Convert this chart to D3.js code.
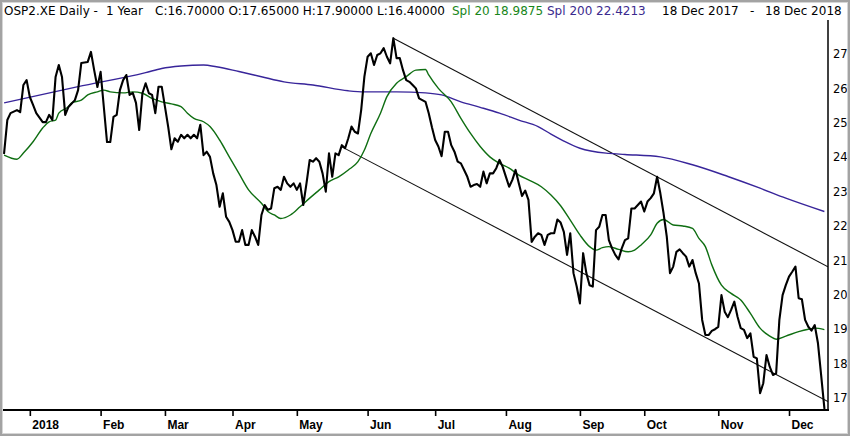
<!DOCTYPE html>
<html>
<head>
<meta charset="utf-8">
<script src="https://cdn.jsdelivr.net/npm/d3@7"></script>
<style>
  html, body { margin: 0; padding: 0; background: #fff; }
  svg { display: block; }
</style>
</head>
<body>
<svg id="chart" width="850" height="436"></svg>
<script>
// ---------------- DATA ----------------
const seriesStart = "2017-12-18";
const seriesEnd = "2018-12-18";
const exchangeHolidays = ["2017-12-25", "2017-12-26", "2018-01-01", "2018-03-30", "2018-04-02", "2018-05-01"];

const monthLabels = ["2018", "Feb", "Mar", "Apr", "May", "Jun", "Jul", "Aug", "Sep", "Oct", "Nov", "Dec"];
const priceTicks = [17, 18, 19, 20, 21, 22, 23, 24, 25, 26, 27];

// daily close
const closes = [
  ["2017-12-18",24.12],["2017-12-19",25.08],["2017-12-20",25.28],["2017-12-22",25.37],["2017-12-27",25.31],
  ["2017-12-28",26.10],["2017-12-29",26.24],["2018-01-02",25.75],["2018-01-03",25.52],["2018-01-04",25.28],
  ["2018-01-08",25.02],["2018-01-09",25.02],["2018-01-10",25.23],["2018-01-11",25.08],["2018-01-12",26.33],
  ["2018-01-15",26.68],["2018-01-16",26.33],["2018-01-17",25.23],["2018-01-18",25.46],["2018-01-22",25.66],
  ["2018-01-23",25.95],["2018-01-24",26.74],["2018-01-26",26.77],["2018-01-29",27.06],["2018-01-30",26.53],
  ["2018-01-31",26.04],["2018-02-01",26.48],["2018-02-02",25.46],["2018-02-05",24.44],["2018-02-06",24.44],
  ["2018-02-07",25.17],["2018-02-08",25.23],["2018-02-09",25.95],["2018-02-12",26.24],["2018-02-13",26.39],
  ["2018-02-14",25.81],["2018-02-15",25.87],["2018-02-16",25.58],["2018-02-19",24.79],["2018-02-20",25.86],
  ["2018-02-21",26.15],["2018-02-22",25.86],["2018-02-23",25.81],["2018-02-26",25.28],["2018-02-27",26.05],
  ["2018-02-28",26.05],["2018-03-01",25.47],["2018-03-02",24.89],["2018-03-05",24.23],["2018-03-06",24.55],
  ["2018-03-07",24.45],["2018-03-08",24.65],["2018-03-09",24.55],["2018-03-12",24.65],["2018-03-13",24.55],
  ["2018-03-14",24.65],["2018-03-15",24.55],["2018-03-16",24.94],["2018-03-19",24.06],["2018-03-20",24.16],
  ["2018-03-21",24.01],["2018-03-22",23.53],["2018-03-23",23.19],["2018-03-26",22.56],["2018-03-27",22.95],
  ["2018-03-28",22.27],["2018-03-29",22.12],["2018-04-03",21.88],["2018-04-04",21.54],["2018-04-05",21.54],
  ["2018-04-06",21.88],["2018-04-09",21.45],["2018-04-10",21.45],["2018-04-11",21.88],["2018-04-12",21.69],
  ["2018-04-13",21.45],["2018-04-16",22.32],["2018-04-17",22.61],["2018-04-18",22.47],["2018-04-19",22.51],
  ["2018-04-20",23.10],["2018-04-23",23.14],["2018-04-24",23.05],["2018-04-25",23.43],["2018-04-26",23.24],
  ["2018-04-27",23.14],["2018-04-30",23.24],["2018-05-02",23.05],["2018-05-03",23.24],["2018-05-04",22.61],
  ["2018-05-07",23.24],["2018-05-08",23.92],["2018-05-09",23.87],["2018-05-10",23.97],["2018-05-11",23.87],
  ["2018-05-14",23.53],["2018-05-15",23.00],["2018-05-16",24.11],["2018-05-17",23.43],["2018-05-18",24.11],
  ["2018-05-21",24.06],["2018-05-22",24.35],["2018-05-23",24.26],["2018-05-24",24.55],["2018-05-25",24.89],
  ["2018-05-28",24.74],["2018-05-29",24.69],["2018-05-30",25.37],["2018-05-31",26.34],["2018-06-01",26.92],
  ["2018-06-04",27.02],["2018-06-05",26.68],["2018-06-06",26.97],["2018-06-07",27.02],["2018-06-08",27.17],
  ["2018-06-11",26.92],["2018-06-12",26.73],["2018-06-13",27.46],["2018-06-14",26.88],["2018-06-15",26.88],
  ["2018-06-18",26.53],["2018-06-19",26.24],["2018-06-20",26.19],["2018-06-21",26.10],["2018-06-22",26.00],
  ["2018-06-25",25.71],["2018-06-26",25.66],["2018-06-27",25.61],["2018-06-28",25.28],["2018-06-29",24.87],
  ["2018-07-02",24.50],["2018-07-03",24.31],["2018-07-04",24.03],["2018-07-05",24.74],["2018-07-06",24.74],
  ["2018-07-09",24.35],["2018-07-10",24.16],["2018-07-11",23.87],["2018-07-12",23.82],["2018-07-13",23.63],
  ["2018-07-16",23.43],["2018-07-17",23.14],["2018-07-18",23.19],["2018-07-19",23.22],["2018-07-20",23.14],
  ["2018-07-23",23.58],["2018-07-24",23.24],["2018-07-25",23.53],["2018-07-26",23.53],["2018-07-27",23.68],
  ["2018-07-30",23.92],["2018-07-31",23.72],["2018-08-01",23.43],["2018-08-02",23.14],["2018-08-03",23.34],
  ["2018-08-06",23.63],["2018-08-07",23.24],["2018-08-08",22.87],["2018-08-09",23.03],["2018-08-10",22.76],
  ["2018-08-13",21.54],["2018-08-14",21.69],["2018-08-15",21.79],["2018-08-16",21.74],["2018-08-17",21.45],
  ["2018-08-20",21.74],["2018-08-21",21.79],["2018-08-22",21.79],["2018-08-23",22.19],["2018-08-24",22.10],
  ["2018-08-27",21.83],["2018-08-28",21.16],["2018-08-29",21.79],["2018-08-30",20.63],["2018-08-31",20.24],
  ["2018-09-03",19.75],["2018-09-04",21.21],["2018-09-05",20.63],["2018-09-06",20.28],["2018-09-07",20.24],
  ["2018-09-10",21.88],["2018-09-11",21.98],["2018-09-12",22.32],["2018-09-13",22.32],["2018-09-14",21.59],
  ["2018-09-17",21.35],["2018-09-18",21.16],["2018-09-19",21.03],["2018-09-20",21.35],["2018-09-21",21.59],
  ["2018-09-24",21.64],["2018-09-25",22.51],["2018-09-26",22.51],["2018-09-27",22.61],["2018-09-28",22.71],
  ["2018-10-01",22.42],["2018-10-02",22.71],["2018-10-03",22.81],["2018-10-04",22.95],["2018-10-05",23.43],
  ["2018-10-08",22.95],["2018-10-09",22.37],["2018-10-10",21.69],["2018-10-11",20.63],["2018-10-12",20.82],
  ["2018-10-15",21.25],["2018-10-16",21.32],["2018-10-17",21.21],["2018-10-18",21.11],["2018-10-19",20.82],
  ["2018-10-22",21.01],["2018-10-23",20.63],["2018-10-24",20.33],["2018-10-25",19.27],["2018-10-26",18.83],
  ["2018-10-29",18.83],["2018-10-30",18.95],["2018-10-31",19.00],["2018-11-01",19.07],["2018-11-02",19.99],
  ["2018-11-05",19.51],["2018-11-06",19.35],["2018-11-07",19.56],["2018-11-08",19.80],["2018-11-09",19.36],
  ["2018-11-12",19.03],["2018-11-13",18.98],["2018-11-14",18.74],["2018-11-15",18.88],["2018-11-16",18.20],
  ["2018-11-19",18.15],["2018-11-20",17.14],["2018-11-21",17.43],["2018-11-22",18.25],["2018-11-23",17.91],
  ["2018-11-26",17.67],["2018-11-27",17.72],["2018-11-28",19.27],["2018-11-29",19.99],["2018-11-30",20.28],
  ["2018-12-03",20.53],["2018-12-04",20.67],["2018-12-05",20.82],["2018-12-06",19.90],["2018-12-07",19.87],
  ["2018-12-10",19.27],["2018-12-11",19.07],["2018-12-12",18.96],["2018-12-13",19.12],["2018-12-14",18.59],
  ["2018-12-17",17.65],["2018-12-18",16.70]
];

// 20-day simple moving average
const sma20 = [
  ["2017-12-18",24.06],["2017-12-22",23.94],["2017-12-28",24.12],["2018-01-03",24.45],["2018-01-08",24.85],
  ["2018-01-10",25.03],["2018-01-12",25.08],["2018-01-15",25.28],["2018-01-18",25.47],["2018-01-19",25.58],
  ["2018-01-24",25.66],["2018-01-26",25.81],["2018-01-31",25.90],["2018-02-02",25.95],["2018-02-06",25.90],
  ["2018-02-12",25.87],["2018-02-15",25.90],["2018-02-20",25.86],["2018-02-23",25.71],["2018-02-28",25.61],
  ["2018-03-05",25.55],["2018-03-08",25.47],["2018-03-12",25.28],["2018-03-14",25.13],["2018-03-19",25.03],
  ["2018-03-21",24.89],["2018-03-26",24.50],["2018-03-29",24.01],["2018-04-05",23.53],["2018-04-10",23.05],
  ["2018-04-16",22.66],["2018-04-18",22.42],["2018-04-20",22.32],["2018-04-24",22.22],["2018-04-27",22.32],
  ["2018-05-03",22.56],["2018-05-08",22.81],["2018-05-11",23.05],["2018-05-16",23.29],["2018-05-21",23.43],
  ["2018-05-24",23.63],["2018-05-29",23.87],["2018-05-31",24.21],["2018-06-04",24.69],["2018-06-07",25.28],
  ["2018-06-11",25.76],["2018-06-14",26.15],["2018-06-19",26.34],["2018-06-22",26.53],["2018-06-27",26.55],
  ["2018-06-28",26.39],["2018-07-03",26.00],["2018-07-09",25.61],["2018-07-12",25.13],["2018-07-17",24.69],
  ["2018-07-20",24.31],["2018-07-25",24.01],["2018-07-30",23.82],["2018-08-02",23.68],["2018-08-07",23.48],
  ["2018-08-10",23.34],["2018-08-16",23.14],["2018-08-21",22.90],["2018-08-24",22.59],["2018-08-29",22.17],
  ["2018-09-03",21.74],["2018-09-06",21.40],["2018-09-10",21.30],["2018-09-12",21.37],["2018-09-14",21.40],
  ["2018-09-19",21.32],["2018-09-24",21.25],["2018-09-26",21.30],["2018-09-28",21.45],["2018-10-03",21.74],
  ["2018-10-05",22.08],["2018-10-09",22.19],["2018-10-12",22.03],["2018-10-17",22.00],["2018-10-22",21.93],
  ["2018-10-24",21.64],["2018-10-26",21.40],["2018-10-30",20.87],["2018-11-02",20.28],["2018-11-07",20.04],
  ["2018-11-12",19.85],["2018-11-15",19.46],["2018-11-20",19.03],["2018-11-23",18.80],["2018-11-27",18.71],
  ["2018-11-30",18.80],["2018-12-06",18.93],["2018-12-11",19.00],["2018-12-13",19.03],["2018-12-18",18.9875]
];

// 200-day simple moving average
const sma200 = [
  ["2017-12-18",25.58],["2018-01-23",26.05],["2018-02-21",26.46],["2018-02-28",26.58],["2018-03-08",26.65],
  ["2018-03-19",26.68],["2018-03-23",26.63],["2018-04-05",26.49],["2018-04-16",26.34],["2018-04-25",26.19],
  ["2018-05-09",26.10],["2018-05-24",25.93],["2018-05-31",25.90],["2018-06-14",25.90],["2018-06-27",25.87],
  ["2018-07-04",25.81],["2018-07-12",25.61],["2018-07-20",25.45],["2018-07-30",25.28],["2018-08-07",25.08],
  ["2018-08-15",24.89],["2018-08-21",24.67],["2018-08-27",24.47],["2018-09-03",24.26],["2018-09-14",24.11],
  ["2018-09-21",24.08],["2018-10-08",24.01],["2018-10-22",23.78],["2018-11-06",23.44],["2018-11-20",23.10],
  ["2018-11-30",22.81],["2018-12-18",22.4213]
];

// hand-drawn trend channel (anchor points)
const upperTrend = [["2018-06-13",27.46],["2018-12-18",20.87]];
const lowerTrend = [["2018-05-22",24.30],["2018-12-18",16.95]];

const headerTitle = "OSP2.XE Daily -";
const headerPeriod = "1 Year";
const headerOHLC = "C:16.70000 O:17.65000 H:17.90000 L:16.40000";
const headerSma20 = "Spl 20 18.9875";
const headerSma200 = "Spl 200 22.4213";
const headerFrom = "18 Dec 2017";
const headerTo = "18 Dec 2018";

// ---------------- CHART ----------------
const W = 850, H = 436;
const plotLeft = 3, plotRight = 828, plotTop = 20, plotBottom = 410;
const colGreen = "#0f6e12", colPurple = "#38259a";
const colGreenText = "#18861a", colPurpleText = "#3b2a8e";

const fmt = d3.timeFormat("%Y-%m-%d");
const parse = d3.timeParse("%Y-%m-%d");
const holidaySet = new Set(exchangeHolidays);
const sessions = d3.timeDay.range(parse(seriesStart), d3.timeDay.offset(parse(seriesEnd), 1))
  .filter(d => d.getDay() !== 0 && d.getDay() !== 6 && !holidaySet.has(fmt(d)));
const sessionIndex = new Map(sessions.map((d, i) => [fmt(d), i]));
function idxOf(s) {
  if (sessionIndex.has(s)) return sessionIndex.get(s);
  return Math.min(sessions.length - 1, d3.bisectLeft(sessions, parse(s)));
}

const x = d3.scaleLinear().domain([0, sessions.length - 1]).range([4.1, 824.4]);
const y = d3.scaleLinear().domain([17, 27]).range([398, 54]);

const svg = d3.select("#chart");
svg.append("rect").attr("x", 0).attr("y", 0).attr("width", W).attr("height", H).attr("fill", "#fff");

const defs = svg.append("defs");
defs.append("clipPath").attr("id", "plotClip").append("rect")
  .attr("x", plotLeft).attr("y", plotTop).attr("width", plotRight - plotLeft).attr("height", plotBottom - plotTop);

const plot = svg.append("g").attr("clip-path", "url(#plotClip)");

const lineGen = d3.line().x(d => x(idxOf(d[0]))).y(d => y(d[1]));
const smoothGen = d3.line().x(d => x(idxOf(d[0]))).y(d => y(d[1])).curve(d3.curveMonotoneX);

// trend lines, extended to the right edge of the plot
function trendPath(t) {
  const x1 = x(idxOf(t[0][0])), y1 = y(t[0][1]);
  const x2 = x(idxOf(t[1][0])), y2 = y(t[1][1]);
  const slope = (y2 - y1) / (x2 - x1);
  const xe = plotRight, ye = y1 + slope * (xe - x1);
  return `M${x1},${y1}L${xe},${ye}`;
}
plot.append("path").attr("d", trendPath(upperTrend)).attr("stroke", "#111").attr("stroke-width", 1.1).attr("fill", "none");
plot.append("path").attr("d", trendPath(lowerTrend)).attr("stroke", "#111").attr("stroke-width", 1.1).attr("fill", "none");

plot.append("path").datum(sma200).attr("d", smoothGen)
  .attr("fill", "none").attr("stroke", colPurple).attr("stroke-width", 1.4);
plot.append("path").datum(sma20).attr("d", smoothGen)
  .attr("fill", "none").attr("stroke", colGreen).attr("stroke-width", 1.4);
plot.append("path").datum(closes).attr("d", lineGen)
  .attr("fill", "none").attr("stroke", "#000").attr("stroke-width", 2.1)
  .attr("stroke-linejoin", "round").attr("stroke-linecap", "round");

// bottom axis
const monthStarts = d3.range(12).map(m => sessions.findIndex(d => d.getFullYear() === 2018 && d.getMonth() === m));
const xAxis = d3.axisBottom(x).tickValues(monthStarts).tickFormat((d, i) => monthLabels[i]).tickSize(6).tickSizeOuter(0);
const gx = svg.append("g").attr("transform", `translate(0,${plotBottom})`).call(xAxis);
gx.select(".domain").remove();
gx.selectAll(".tick line").attr("stroke", "#000").attr("stroke-width", 1.6);
gx.selectAll(".tick text")
  .attr("text-anchor", "start").attr("x", 2).attr("y", 10).attr("dy", "0.71em")
  .style("font-family", "'Liberation Sans Narrow', 'Arial Narrow', sans-serif")
  .style("font-weight", "bold").style("font-size", "12px").attr("fill", "#000");
svg.append("line").attr("x1", plotLeft).attr("x2", plotRight + 1).attr("y1", plotBottom).attr("y2", plotBottom)
  .attr("stroke", "#000").attr("stroke-width", 2.2);

// right axis
const yAxis = d3.axisRight(y).tickValues(priceTicks).tickSize(0).tickPadding(5);
const gy = svg.append("g").attr("transform", `translate(${plotRight},0)`).call(yAxis);
gy.select(".domain").remove();
gy.selectAll(".tick text")
  .style("font-family", "'DejaVu Sans', sans-serif").style("font-size", "11.5px").attr("fill", "#000");
svg.append("line").attr("x1", plotRight).attr("x2", plotRight).attr("y1", plotTop).attr("y2", plotBottom + 1)
  .attr("stroke", "#000").attr("stroke-width", 1.5);

// header
const header = svg.append("text").attr("y", 15)
  .style("font-family", "'DejaVu Sans', sans-serif").style("font-size", "12px").attr("fill", "#000");
header.append("tspan").attr("x", 4).text(headerTitle);
header.append("tspan").attr("x", 106).text(headerPeriod);
header.append("tspan").attr("x", 155).text(headerOHLC);
header.append("tspan").attr("x", 452).attr("fill", colGreenText).text(headerSma20);
header.append("tspan").attr("x", 547).attr("fill", colPurpleText).text(headerSma200);
header.append("tspan").attr("x", 662).text(headerFrom);
header.append("tspan").attr("x", 750).text("-");
header.append("tspan").attr("x", 765).text(headerTo);

// outer frame
svg.append("rect").attr("x", 1).attr("y", 1).attr("width", W - 2).attr("height", H - 2)
  .attr("fill", "none").attr("stroke", "#a3a3a3").attr("stroke-width", 2.5);
svg.append("rect").attr("x", 2.5).attr("y", 2.5).attr("width", W - 5).attr("height", H - 5)
  .attr("fill", "none").attr("stroke", "#d6d6d6").attr("stroke-width", 1);
</script>
</body>
</html>
